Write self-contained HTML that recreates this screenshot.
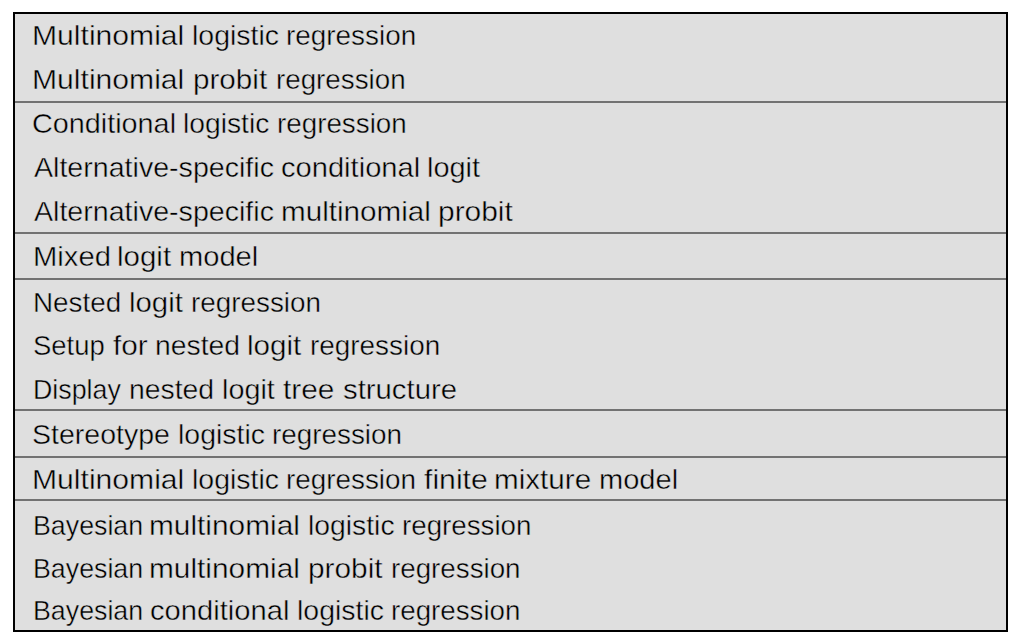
<!DOCTYPE html><html><head><meta charset="utf-8"><style>
html,body{margin:0;padding:0;background:#fff;width:1020px;height:642px;overflow:hidden}
.box{position:absolute;left:13px;top:12px;width:991px;height:616px;border:2px solid #000;background:#dfdfdf;}
.sep{position:absolute;left:15px;width:991px;height:2px;background:#727272;}
.t{position:absolute;white-space:nowrap;font-family:"Liberation Sans",sans-serif;font-size:28.5px;line-height:1;color:#000;transform-origin:0 24.125px;-webkit-text-stroke:0.45px #dfdfdf;}
</style></head><body>
<div class="box"></div>
<div class="sep" style="top:101px"></div>
<div class="sep" style="top:232px"></div>
<div class="sep" style="top:278px"></div>
<div class="sep" style="top:409px"></div>
<div class="sep" style="top:456px"></div>
<div class="sep" style="top:499px"></div>
<div class="t" style="top:20.87px;left:32.49px;transform:scale(1.0566,1.0)">Multinomial</div>
<div class="t" style="top:20.87px;left:191.99px;transform:scale(0.9984,1.0)">logistic</div>
<div class="t" style="top:20.87px;left:285.93px;transform:scale(0.9780,1.0)">regression</div>
<div class="t" style="top:64.77px;left:32.49px;transform:scale(1.0566,1.0)">Multinomial</div>
<div class="t" style="top:64.77px;left:192.92px;transform:scale(1.0396,1.0)">probit</div>
<div class="t" style="top:64.77px;left:275.63px;transform:scale(0.9741,1.0)">regression</div>
<div class="t" style="top:109.47px;left:32.46px;transform:scale(1.0100,1.0)">Conditional</div>
<div class="t" style="top:109.47px;left:183.20px;transform:scale(0.9913,1.0)">logistic</div>
<div class="t" style="top:109.47px;left:277.13px;transform:scale(0.9749,1.0)">regression</div>
<div class="t" style="top:153.47px;left:33.50px;transform:scale(1.0033,1.0)">Alternative-specific</div>
<div class="t" style="top:153.47px;left:281.24px;transform:scale(1.0213,1.0)">conditional</div>
<div class="t" style="top:153.47px;left:427.26px;transform:scale(1.0151,1.0)">logit</div>
<div class="t" style="top:196.67px;left:33.50px;transform:scale(1.0033,1.0)">Alternative-specific</div>
<div class="t" style="top:196.67px;left:280.92px;transform:scale(1.0402,1.0)">multinomial</div>
<div class="t" style="top:196.67px;left:438.41px;transform:scale(1.0496,1.0)">probit</div>
<div class="t" style="top:241.67px;left:32.56px;transform:scale(1.0244,1.0)">Mixed</div>
<div class="t" style="top:241.67px;left:117.43px;transform:scale(1.0349,1.0)">logit</div>
<div class="t" style="top:241.67px;left:179.45px;transform:scale(1.0210,1.0)">model</div>
<div class="t" style="top:287.87px;left:33.28px;transform:scale(0.9755,1.0)">Nested</div>
<div class="t" style="top:287.87px;left:128.64px;transform:scale(1.0289,1.0)">logit</div>
<div class="t" style="top:287.87px;left:190.63px;transform:scale(0.9765,1.0)">regression</div>
<div class="t" style="top:330.67px;left:32.80px;transform:scale(0.9625,1.0)">Setup</div>
<div class="t" style="top:330.67px;left:113.00px;transform:scale(1.0428,1.0)">for</div>
<div class="t" style="top:330.67px;left:154.80px;transform:scale(0.9932,1.0)">nested</div>
<div class="t" style="top:330.67px;left:247.22px;transform:scale(1.0388,1.0)">logit</div>
<div class="t" style="top:330.67px;left:309.73px;transform:scale(0.9788,1.0)">regression</div>
<div class="t" style="top:374.67px;left:33.36px;transform:scale(0.9400,1.0)">Display</div>
<div class="t" style="top:374.67px;left:129.30px;transform:scale(0.9944,1.0)">nested</div>
<div class="t" style="top:374.67px;left:222.07px;transform:scale(1.0092,1.0)">logit</div>
<div class="t" style="top:374.67px;left:283.40px;transform:scale(1.0462,1.0)">tree</div>
<div class="t" style="top:374.67px;left:342.91px;transform:scale(1.0287,1.0)">structure</div>
<div class="t" style="top:419.67px;left:32.36px;transform:scale(1.0002,1.0)">Stereotype</div>
<div class="t" style="top:419.67px;left:177.69px;transform:scale(0.9984,1.0)">logistic</div>
<div class="t" style="top:419.67px;left:271.63px;transform:scale(0.9765,1.0)">regression</div>
<div class="t" style="top:464.67px;left:32.49px;transform:scale(1.0566,1.0)">Multinomial</div>
<div class="t" style="top:464.67px;left:191.99px;transform:scale(0.9984,1.0)">logistic</div>
<div class="t" style="top:464.67px;left:285.93px;transform:scale(0.9765,1.0)">regression</div>
<div class="t" style="top:464.67px;left:423.60px;transform:scale(1.0597,1.0)">finite</div>
<div class="t" style="top:464.67px;left:493.92px;transform:scale(1.0398,1.0)">mixture</div>
<div class="t" style="top:464.67px;left:599.46px;transform:scale(1.0197,1.0)">model</div>
<div class="t" style="top:510.67px;left:32.76px;transform:scale(0.9395,1.0)">Bayesian</div>
<div class="t" style="top:510.67px;left:149.41px;transform:scale(1.0466,1.0)">multinomial</div>
<div class="t" style="top:510.67px;left:307.50px;transform:scale(0.9937,1.0)">logistic</div>
<div class="t" style="top:510.67px;left:401.54px;transform:scale(0.9726,1.0)">regression</div>
<div class="t" style="top:553.57px;left:32.76px;transform:scale(0.9395,1.0)">Bayesian</div>
<div class="t" style="top:553.57px;left:149.41px;transform:scale(1.0466,1.0)">multinomial</div>
<div class="t" style="top:553.57px;left:308.01px;transform:scale(1.0468,1.0)">probit</div>
<div class="t" style="top:553.57px;left:390.84px;transform:scale(0.9734,1.0)">regression</div>
<div class="t" style="top:595.67px;left:32.76px;transform:scale(0.9395,1.0)">Bayesian</div>
<div class="t" style="top:595.67px;left:150.03px;transform:scale(1.0228,1.0)">conditional</div>
<div class="t" style="top:595.67px;left:296.69px;transform:scale(0.9984,1.0)">logistic</div>
<div class="t" style="top:595.67px;left:390.94px;transform:scale(0.9726,1.0)">regression</div>
</body></html>
